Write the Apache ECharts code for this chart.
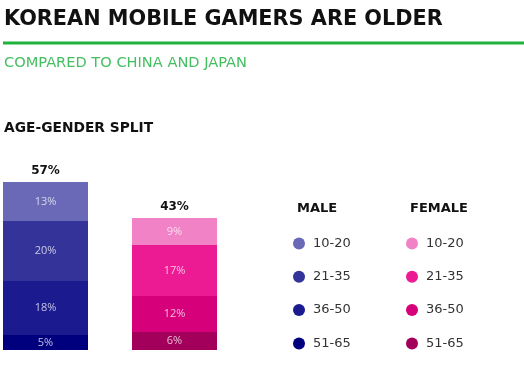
<!DOCTYPE html>
<html><head><meta charset="utf-8">
<script src="https://cdn.jsdelivr.net/npm/echarts@6/dist/echarts.min.js"></script>
<style>html,body{margin:0;padding:0;background:#fff}#c{width:524px;height:370px}</style>
</head><body><div id="c"></div>
<script>
const genders = ['MALE', 'FEMALE'];
const ageGroups = ['51-65', '36-50', '21-35', '10-20'];
const maleValues = [5, 18, 20, 13];
const femaleValues = [6, 12, 17, 9];
const totals = [57, 43];
const maleColors = ['#00007f', '#1b1a8f', '#33339a', '#6969b7'];
const femaleColors = ['#a3005c', '#d6007b', '#ec1a93', '#f282c6'];

const FONT = 'DejaVu Sans';
const series = [];
ageGroups.forEach((g, i) => {
  series.push({
    name: 'MALE ' + g, type: 'bar', stack: 'all', barWidth: 85,
    data: [maleValues[i], '-'],
    itemStyle: { color: maleColors[i] },
    label: { show: true, position: 'inside', formatter: p => p.value + '%',
      color: 'rgba(255,255,255,0.72)', fontFamily: 'Open Sans', fontSize: 11 }
  });
});
ageGroups.forEach((g, i) => {
  series.push({
    name: 'FEMALE ' + g, type: 'bar', stack: 'all', barWidth: 85,
    data: ['-', femaleValues[i]],
    itemStyle: { color: femaleColors[i] },
    label: { show: true, position: 'inside', formatter: p => p.value + '%',
      color: 'rgba(255,255,255,0.72)', fontFamily: 'Open Sans', fontSize: 11 }
  });
});
series.push({
  name: 'total', type: 'bar', stack: 'all', barWidth: 85,
  data: [0, 0], itemStyle: { color: 'transparent' },
  label: { show: true, position: 'top', distance: 5,
    formatter: p => totals[p.dataIndex] + '%',
    color: '#111', fontFamily: FONT, fontWeight: 'bold', fontSize: 12 }
});

const legendBase = {
  orient: 'vertical', icon: 'circle', itemWidth: 18, itemHeight: 12, itemGap: 20.3,
  padding: 0, selectedMode: false,
  textStyle: { fontFamily: FONT, fontSize: 13, color: '#333', lineHeight: 12 },
  formatter: n => n.split(' ')[1]
};

const option = {
  animation: false,
  grid: { left: -19, width: 258, bottom: 20, height: 180, containLabel: false, outerBoundsMode: 'none' },
  xAxis: { type: 'category', data: genders, show: false },
  yAxis: { type: 'value', min: 0, max: 60, show: false },
  legend: [
    Object.assign({}, legendBase, { left: 293, top: 237,
      data: ageGroups.slice().reverse().map(g => 'MALE ' + g) }),
    Object.assign({}, legendBase, { left: 406, top: 237,
      data: ageGroups.slice().reverse().map(g => 'FEMALE ' + g) })
  ],
  graphic: [
    { type: 'text', style: { text: 'KOREAN MOBILE GAMERS ARE OLDER', x: 4, y: 20,
      verticalAlign: 'middle', fill: '#111', font: 'bold 20.8px "DejaVu Sans"' } },
    { type: 'line', shape: { x1: 3, y1: 43, x2: 524, y2: 43 },
      style: { stroke: '#1fb23c', lineWidth: 3 } },
    { type: 'text', style: { text: 'COMPARED TO CHINA AND JAPAN', x: 4, y: 63,
      verticalAlign: 'middle', fill: '#45be62', font: '14.6px "DejaVu Sans"' } },
    { type: 'text', style: { text: 'AGE-GENDER SPLIT', x: 4, y: 128,
      verticalAlign: 'middle', fill: '#111', font: 'bold 13.8px "DejaVu Sans"' } },
    { type: 'text', style: { text: 'MALE', x: 297, y: 209,
      verticalAlign: 'middle', fill: '#111', font: 'bold 13px "DejaVu Sans"' } },
    { type: 'text', style: { text: 'FEMALE', x: 410, y: 209,
      verticalAlign: 'middle', fill: '#111', font: 'bold 13px "DejaVu Sans"' } }
  ],
  series: series
};
const chart = echarts.init(document.getElementById('c'), null, { renderer: 'canvas' });
chart.setOption(option);
</script>
</body></html>
